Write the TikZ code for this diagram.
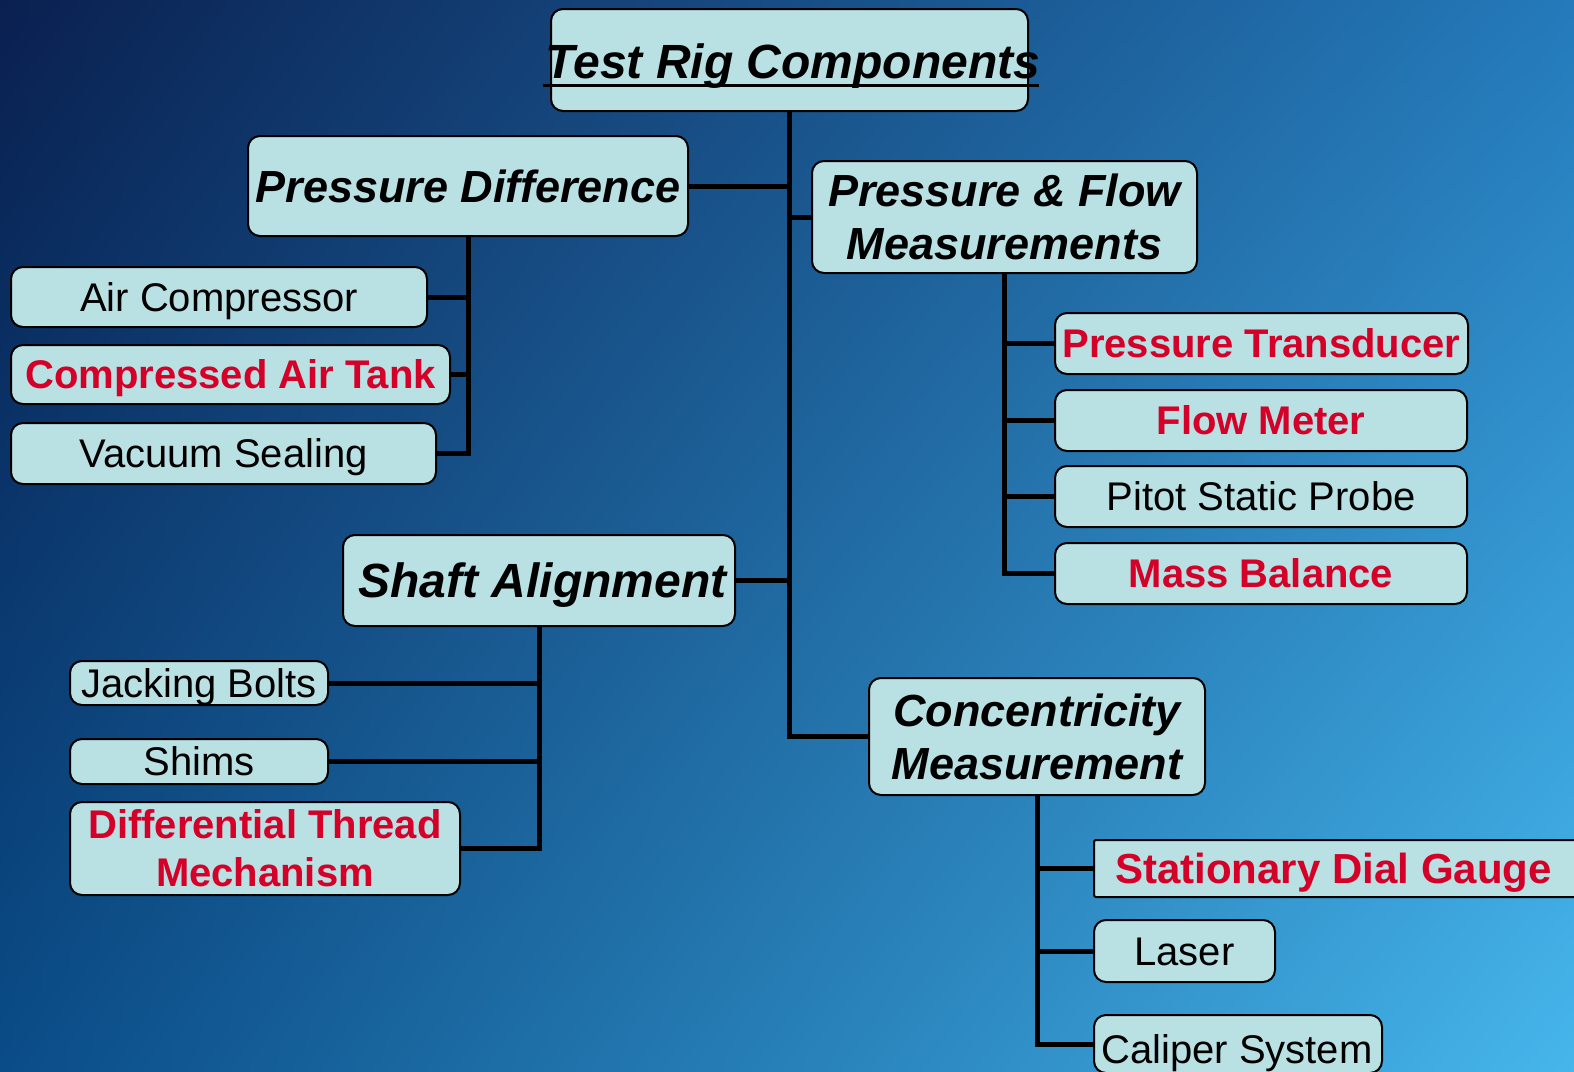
\documentclass[tikz,border=0pt]{standalone}
\usepackage{fontspec}
\setmainfont{Liberation Sans}
\usetikzlibrary{shadings}
\definecolor{boxfill}{RGB}{185,224,227}
\definecolor{redc}{RGB}{212,0,40}
\definecolor{bgUL}{RGB}{10,32,80}
\definecolor{bgUR}{RGB}{36,122,186}
\definecolor{bgLL}{RGB}{10,76,135}
\definecolor{bgLR}{RGB}{70,182,235}
\begin{document}
\begin{tikzpicture}[x=1pt,y=-1pt,
  rbox/.style={draw=black, line width=2pt, fill=boxfill, rounded corners=12pt, inner sep=0pt},
  itembox/.style={rbox, font=\fontsize{40}{48}\selectfont, text height=28.5pt, text depth=0pt},
  reditem/.style={itembox, text=redc, font=\fontsize{40}{48}\selectfont\bfseries},
  headbox/.style={rbox, font=\fontsize{45}{53}\selectfont\bfseries\itshape, align=center},
  headone/.style={headbox, text height=32pt, text depth=0pt},
  conn/.style={line width=5pt}]
\useasboundingbox (0,0) rectangle (1574,1071);
\clip (0,0) rectangle (1574,1071);
\shade[upper left=bgUL, upper right=bgUR, lower left=bgLL, lower right=bgLR] (0,0) rectangle (1574,1071);

% title
\node[rbox, minimum width=477pt, minimum height=102pt] (title) at (789.5,60) {};
\node[inner sep=0pt, anchor=base, font=\fontsize{48}{52}\selectfont\bfseries\itshape] (tt) at (793,78) {Test Rig Components};
\draw[line width=3pt] ([xshift=-3pt,yshift=-7pt]tt.base west) -- ([xshift=-1pt,yshift=-7pt]tt.base east);

% level 1
\node[headone, minimum width=440pt, minimum height=100pt] (pd) at (468,186) {Pressure Difference};
\node[headbox, minimum width=385pt, minimum height=112pt] (pf) at (1004.5,217) {Pressure \& Flow\\Measurements};
\node[rbox, minimum width=392pt, minimum height=91pt] (sa) at (539,580.5) {};
\node[inner sep=0pt, font=\fontsize{48}{53}\selectfont\bfseries\itshape, text height=34pt, text depth=0pt] (sat) at (542.5,580.5) {Shaft Alignment};
\node[headbox, minimum width=336pt, minimum height=117pt] (cm) at (1037,736.5) {Concentricity\\Measurement};

% pressure difference children
\node[itembox, minimum width=416pt, minimum height=60pt] (ac) at (219,297) {Air Compressor};
\node[reditem, minimum width=439pt, minimum height=59pt] (cat) at (230.5,374.5) {Compressed Air Tank};
\node[itembox, minimum width=425pt, minimum height=61pt] (vs) at (223.5,453.5) {Vacuum Sealing};

% pressure & flow children
\node[reditem, minimum width=413pt, minimum height=61pt] (pt) at (1261.5,343.5) {Pressure Transducer};
\node[reditem, minimum width=412pt, minimum height=61pt] (fm) at (1261,420.5) {Flow Meter};
\node[itembox, minimum width=412pt, minimum height=61pt] (psp) at (1261,496.5) {Pitot Static Probe};
\node[reditem, minimum width=412pt, minimum height=61pt] (mb) at (1261,573.5) {Mass Balance};

% shaft alignment children
\node[itembox, minimum width=258pt, minimum height=44pt] (jb) at (199,683) {Jacking Bolts};
\node[itembox, minimum width=258pt, minimum height=45pt] (sh) at (199,761.5) {Shims};
\node[rbox, text=redc, font=\fontsize{40}{48}\selectfont\bfseries, align=center, minimum width=390pt, minimum height=93pt] (dtm) at (265,848.5) {Differential Thread\\Mechanism};

% concentricity children
\node[rbox, rounded corners=2pt, minimum width=490pt, minimum height=57pt] (sdg) at (1339,868.5) {};
\node[inner sep=0pt, text=redc, font=\fontsize{42}{48}\selectfont\bfseries, text height=30pt, text depth=0pt] (sdgt) at (1333.5,868.5) {Stationary Dial Gauge};
\node[itembox, minimum width=181pt, minimum height=62pt] (la) at (1184.5,951) {Laser};
\node[rbox, minimum width=288pt, minimum height=58pt] (cs) at (1238,1044) {};
\node[inner sep=0pt, anchor=base, font=\fontsize{40}{48}\selectfont] (cst) at (1237,1063) {Caliper System};

% connectors
\draw[conn] (title.south) |- (cm.west);
\draw[conn] (pd.east) -- (pd.east -| title.south);
\draw[conn] (pf.west) -- (pf.west -| title.south);
\draw[conn] (sa.east) -- (sa.east -| title.south);

\draw[conn] (pd.south) |- (vs.east);
\draw[conn] (ac.east) -- (ac.east -| pd.south);
\draw[conn] (cat.east) -- (cat.east -| pd.south);

\draw[conn] (pf.south) |- (mb.west);
\draw[conn] (pt.west) -- (pt.west -| pf.south);
\draw[conn] (fm.west) -- (fm.west -| pf.south);
\draw[conn] (psp.west) -- (psp.west -| pf.south);

\draw[conn] (sa.south) |- (dtm.east);
\draw[conn] (jb.east) -- (jb.east -| sa.south);
\draw[conn] (sh.east) -- (sh.east -| sa.south);

\draw[conn] (cm.south) |- (cs.west);
\draw[conn] (sdg.west) -- (sdg.west -| cm.south);
\draw[conn] (la.west) -- (la.west -| cm.south);
\end{tikzpicture}
\end{document}
